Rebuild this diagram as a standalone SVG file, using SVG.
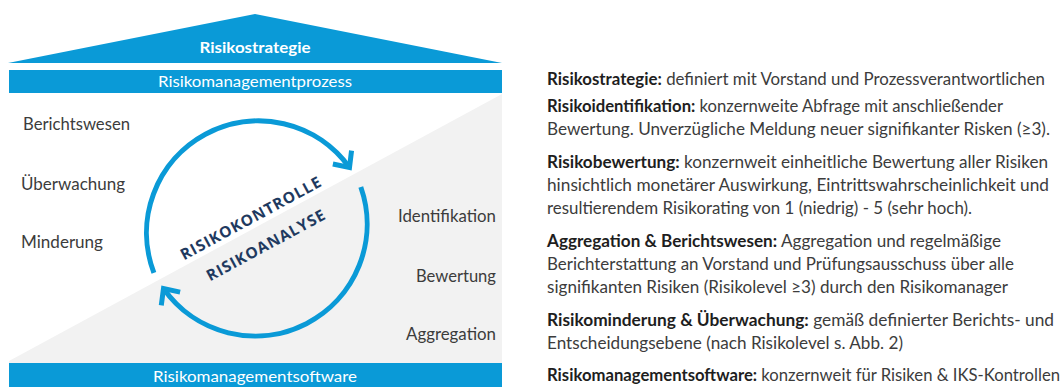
<svg xmlns="http://www.w3.org/2000/svg" width="1061" height="387" viewBox="0 0 1061 387">
  <style>
    .blue { fill: #0a9ad7; }
    .bar-text { font-family: Lato, "Open Sans", sans-serif; font-size: 16px; fill: #ffffff; text-anchor: middle; }
    .label { font-family: Lato, "Open Sans", sans-serif; font-size: 17px; fill: #3c3c3c; }
    .label-r { text-anchor: end; }
    .cycle { fill: none; stroke: #0a9ad7; stroke-width: 5; }
    .diag { font-family: "Open Sans", Lato, sans-serif; font-size: 15.5px; font-weight: bold; fill: #1f3a60; letter-spacing: 0.9px; text-anchor: middle; }
    .desc { font-family: Lato, "Open Sans", sans-serif; font-size: 16.5px; fill: #3c3c3c; }
    .desc .b { font-weight: bold; fill: #1e1e1e; }
  </style>
  <defs>
    <marker id="chevron" markerUnits="userSpaceOnUse" viewBox="-20 -20 30 40" markerWidth="30" markerHeight="40" refX="0" refY="0" orient="auto" overflow="visible">
      <path d="M-12.5,-11.5 L0,0 L-12.5,11.5" fill="none" stroke="#0a9ad7" stroke-width="5" stroke-linejoin="miter"/>
    </marker>
  </defs>

  <rect x="0" y="0" width="1061" height="387" fill="#ffffff"/>

  <!-- lower half of the house: grey analysis wedge -->
  <polygon id="analysis-area" points="9,361 502,94 502,363 9,363" fill="#f2f2f2"/>

  <!-- roof -->
  <g id="risikostrategie">
    <polygon class="blue" points="8,63 255,14 502,63"/>
    <text x="255" y="53" class="bar-text" font-weight="bold" textLength="111" lengthAdjust="spacingAndGlyphs">Risikostrategie</text>
  </g>

  <!-- process bar -->
  <g id="risikomanagementprozess">
    <rect class="blue" x="9" y="70" width="493" height="23"/>
    <text x="255" y="87" class="bar-text" textLength="194" lengthAdjust="spacingAndGlyphs">Risikomanagementprozess</text>
  </g>

  <!-- software bar -->
  <g id="risikomanagementsoftware">
    <rect class="blue" x="9" y="363" width="493" height="24"/>
    <text x="255" y="382" class="bar-text" textLength="204" lengthAdjust="spacingAndGlyphs">Risikomanagementsoftware</text>
  </g>

  <!-- control steps -->
  <g id="berichtswesen"><text class="label" x="23" y="130" textLength="107" lengthAdjust="spacingAndGlyphs">Berichtswesen</text></g>
  <g id="ueberwachung"><text class="label" x="21" y="190" textLength="104" lengthAdjust="spacingAndGlyphs">Überwachung</text></g>
  <g id="minderung"><text class="label" x="21" y="248" textLength="82" lengthAdjust="spacingAndGlyphs">Minderung</text></g>

  <!-- analysis steps -->
  <g id="identifikation"><text class="label label-r" x="496" y="222" textLength="98" lengthAdjust="spacingAndGlyphs">Identifikation</text></g>
  <g id="bewertung"><text class="label label-r" x="496" y="282" textLength="80" lengthAdjust="spacingAndGlyphs">Bewertung</text></g>
  <g id="aggregation"><text class="label label-r" x="496" y="340" textLength="90" lengthAdjust="spacingAndGlyphs">Aggregation</text></g>

  <!-- cycle arrows -->
  <g id="connectors">
    <path class="cycle" d="M153.9,272.8 A112,112 0 0 1 349.5,167.5" marker-end="url(#chevron)"/>
    <path class="cycle" d="M360.8,187 A112,112 0 0 1 163.5,288.5" marker-end="url(#chevron)"/>
  </g>

  <!-- diagonal titles -->
  <g id="risikokontrolle">
    <text class="diag" transform="translate(251,218) rotate(-28.4)" x="0" y="5.5">RISIKOKONTROLLE</text>
  </g>
  <g id="risikoanalyse">
    <text class="diag" transform="translate(266,245) rotate(-28.4)" x="0" y="5.5">RISIKOANALYSE</text>
  </g>

  <!-- description panel -->
  <g id="beschreibung" class="desc">
    <text x="547" y="85" textLength="498" lengthAdjust="spacingAndGlyphs"><tspan class="b">Risikostrategie:</tspan> definiert mit Vorstand und Prozessverantwortlichen</text>
    <text x="547" y="112" textLength="456" lengthAdjust="spacingAndGlyphs"><tspan class="b">Risikoidentifikation:</tspan> konzernweite Abfrage mit anschließender</text>
    <text x="547" y="135" textLength="503" lengthAdjust="spacingAndGlyphs">Bewertung. Unverzügliche Meldung neuer signifikanter Risken (≥3).</text>
    <text x="547" y="168" textLength="501" lengthAdjust="spacingAndGlyphs"><tspan class="b">Risikobewertung:</tspan> konzernweit einheitliche Bewertung aller Risiken</text>
    <text x="547" y="191" textLength="502" lengthAdjust="spacingAndGlyphs">hinsichtlich monetärer Auswirkung, Eintrittswahrscheinlichkeit und</text>
    <text x="547" y="214" textLength="425" lengthAdjust="spacingAndGlyphs">resultierendem Risikorating von 1 (niedrig) - 5 (sehr hoch).</text>
    <text x="547" y="247" textLength="454" lengthAdjust="spacingAndGlyphs"><tspan class="b">Aggregation &amp; Berichtswesen:</tspan> Aggregation und regelmäßige</text>
    <text x="547" y="270" textLength="467" lengthAdjust="spacingAndGlyphs">Berichterstattung an Vorstand und Prüfungsausschuss über alle</text>
    <text x="547" y="293" textLength="461" lengthAdjust="spacingAndGlyphs">signifikanten Risiken (Risikolevel ≥3) durch den Risikomanager</text>
    <text x="547" y="326" textLength="507" lengthAdjust="spacingAndGlyphs"><tspan class="b">Risikominderung &amp; Überwachung:</tspan> gemäß definierter Berichts- und</text>
    <text x="547" y="349" textLength="356" lengthAdjust="spacingAndGlyphs">Entscheidungsebene (nach Risikolevel s. Abb. 2)</text>
    <text x="547" y="381" textLength="513" lengthAdjust="spacingAndGlyphs"><tspan class="b">Risikomanagementsoftware:</tspan> konzernweit für Risiken &amp; IKS-Kontrollen</text>
  </g>
</svg>
